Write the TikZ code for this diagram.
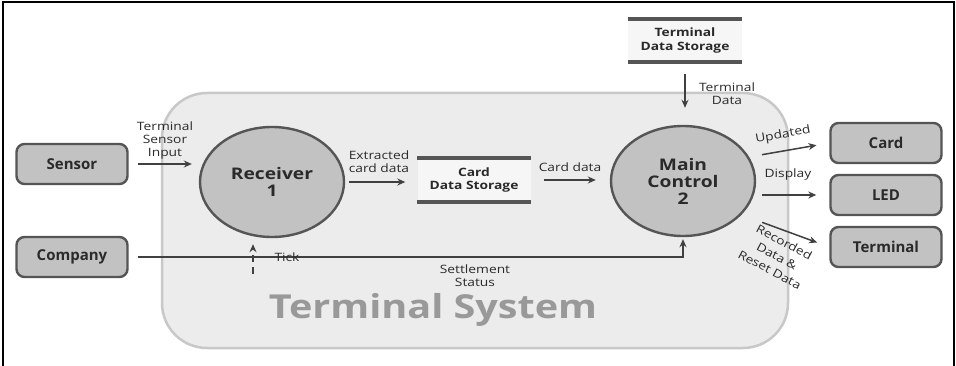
\documentclass[tikz,border=0pt]{standalone}
\usepackage{fontspec}
\setmainfont{Open Sans}
\newfontfamily\widesans{Open Sans}[FakeStretch=1.2]
\usetikzlibrary{shapes.geometric,arrows.meta}

\definecolor{boxgray}{HTML}{C2C2C2}
\definecolor{edgegray}{HTML}{555555}
\definecolor{arrowgray}{HTML}{404040}
\definecolor{textdark}{HTML}{2A2A2A}
\definecolor{sysfill}{HTML}{ECECEC}
\definecolor{sysedge}{HTML}{C8C8C8}
\definecolor{systext}{HTML}{999999}
\definecolor{storefill}{HTML}{F6F6F6}

\begin{document}
\begin{tikzpicture}[x=1pt,y=-1pt,
    ext/.style={draw=edgegray, line width=2.4pt, fill=boxgray, rounded corners=8pt,
        minimum width=111pt, minimum height=40pt, inner sep=0pt, text=textdark,
        font=\bfseries\fontsize{15}{17}\selectfont},
    proc/.style={ellipse, draw=edgegray, line width=2.4pt, fill=boxgray,
        minimum width=144pt, minimum height=110pt, inner sep=0pt, align=center,
        text=textdark, font=\widesans\bfseries\fontsize{16}{17}\selectfont},
    store/.style={fill=storefill, minimum width=113pt, minimum height=44pt, inner sep=0pt,
        align=center, text=textdark, font=\widesans\bfseries\fontsize{11.5}{13.5}\selectfont},
    storeline/.style={draw=edgegray, line width=4pt},
    flow/.style={draw=arrowgray, line width=1.5pt, -{Stealth[length=8pt,width=7pt]}},
    lbl/.style={align=center, inner sep=0pt, text=textdark,
        font=\widesans\fontsize{11.5}{13}\selectfont}]

    \useasboundingbox (0,0) rectangle (956,366);

    % frame
    \draw[black, line width=1.2pt] (3,366) -- (3,2) -- (954,2) -- (954,366);

    % system boundary
    \draw[draw=sysedge, fill=sysfill, line width=2.5pt, rounded corners=45pt] (162,93) rectangle (788,348);
    \node[text=systext, font=\widesans\bfseries\fontsize{33}{36}\selectfont] (systitle) at (433,310) {Terminal System};

    % external entities
    \node[ext] (sensor) at (72,164) {Sensor};
    \node[ext] (company) at (72,257) {Company};
    \node[ext] (card) at (886,143) {Card};
    \node[ext] (led) at (886,195) {LED};
    \node[ext] (term) at (886,247) {Terminal};

    % processes
    \node[proc] (recv) at (272,182) {Receiver\\1};
    \node[proc] (main) at (683,181) {Main\\Control\\2};

    % data stores
    \node[store] (cstore) at (474,180) {Card\\Data Storage};
    \node[store, minimum width=114pt, minimum height=43pt] (tstore) at (685,40.5) {Terminal\\Data Storage};
    \foreach \s in {cstore,tstore} {
        \draw[storeline] (\s.north west) -- (\s.north east);
        \draw[storeline] (\s.south west) -- (\s.south east);
    }

    % flows
    \draw[flow, shorten <=9pt, shorten >=7pt] (sensor.east) -- (sensor.east -| recv.west);
    \draw[flow, shorten <=4pt, shorten >=12pt] (recv.east) -- (recv.east -| cstore.west);
    \draw[flow, shorten <=13pt, shorten >=14pt] (cstore.east) -- (cstore.east -| main.west);
    \draw[flow, shorten <=12pt, shorten >=17pt] (tstore.south) -- (tstore.south |- main.north);
    \draw[flow, shorten <=13pt, shorten >=13pt] (main.20) -- (card.west);
    \draw[flow, shorten <=6pt, shorten >=13pt] (led.west -| main.east) -- (led.west);
    \draw[flow, shorten <=22pt, shorten >=13pt] (main.-30) -- (term.west);
    \draw[flow, shorten <=9pt, shorten >=2pt] (company.east) -- (company.east -| main.south) -- (main.south);

    \coordinate (tick) at (253,274);
    \draw[flow, dashed, dash pattern=on 7pt off 5pt, shorten >=6pt] (tick) -- (tick |- recv.south);

    % labels
    \node[lbl] (lsens) at (165,141) {Terminal\\Sensor\\Input};
    \node[lbl] (lext) at (379,162) {Extracted\\card data};
    \node[lbl] (lcard) at (570,167) {Card data};
    \node[lbl] (ltdata) at (727,94) {Terminal\\Data};
    \node[lbl, rotate=10] (lupd) at (783,135) {Updated};
    \node[lbl] (ldisp) at (788,175) {Display};
    \node[lbl, rotate=-28, font=\widesans\fontsize{11.5}{15.5}\selectfont] (lrec) at (777,256) {Recorded\\Data \&\\Reset Data};
    \node[lbl] (lsettle) at (475,276) {Settlement\\Status};
    \node[lbl] (ltick) at (287,257) {Tick};

\end{tikzpicture}
\end{document}
